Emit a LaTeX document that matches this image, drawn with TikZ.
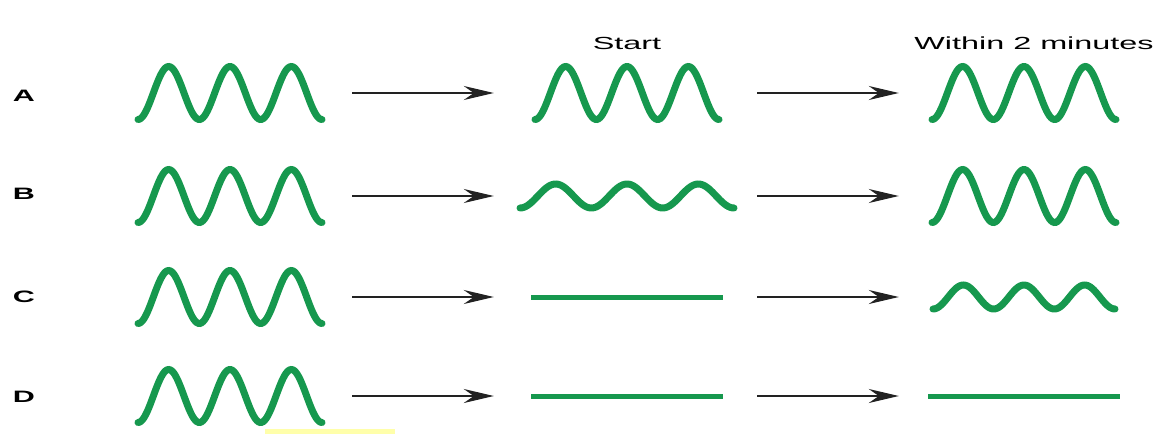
\documentclass[tikz,border=0pt]{standalone}
\usepackage{fontspec}
\setmainfont{Liberation Sans}
\usetikzlibrary{arrows.meta}

\definecolor{sgreen}{RGB}{22,152,78}
\definecolor{ink}{RGB}{34,34,34}
\definecolor{hilite}{RGB}{255,255,170}

\newcommand{\stretchx}[1]{\scalebox{1.85}[1]{#1}}
% a wave of three periods drawn in a slot node: node, amplitude, half width
\newcommand{\wavein}[3]{\draw[sig,shift={(#1.center)}] plot[domain=-#3:#3,samples=120,smooth] (\x,{#2*cos(540/#3*(\x+#3))});}
\newcommand{\flatin}[2]{\draw[flat] ([xshift=-#2pt]#1.center) -- ([xshift=#2pt]#1.center);}

\tikzset{
  slot/.style={inner sep=0pt,minimum height=60pt},
  sig/.style={draw=sgreen,line width=7pt,line cap=round},
  flat/.style={draw=sgreen,line width=5pt},
  link/.style={draw=ink,line width=2pt,-{Stealth[length=30pt,width=14pt,inset=10pt]},shorten <=27pt,shorten >=30pt},
  rowlabel/.style={anchor=base,font=\fontsize{16.5}{19}\selectfont\bfseries},
  head/.style={anchor=base,font=\fontsize{17.5}{21}\selectfont}
}

\begin{document}
\begin{tikzpicture}[x=1pt,y=-1pt]
\useasboundingbox (0,0) rectangle (1161,434);
\fill[hilite] (265,429) rectangle (395,434);

\node[head](start) at (627,49){\stretchx{Start}};
\node[head](within) at (1034,49){\stretchx{Within 2 minutes}};

\node[rowlabel](la) at (24,101){\stretchx{A}};
\node[rowlabel](lb) at (24,199){\stretchx{B}};
\node[rowlabel](lc) at (24,302){\stretchx{C}};
\node[rowlabel](ld) at (24,402){\stretchx{D}};

\node[slot,minimum width=190pt](a1) at (230,93){};
\node[slot,minimum width=206pt](a2) at (627,93){};
\node[slot,minimum width=190pt](a3) at (1024,93){};
\node[slot,minimum width=190pt](b1) at (230,196){};
\node[slot,minimum width=206pt](b2) at (627,196){};
\node[slot,minimum width=190pt](b3) at (1024,196){};
\node[slot,minimum width=190pt](c1) at (230,297){};
\node[slot,minimum width=206pt](c2) at (627,297){};
\node[slot,minimum width=190pt](c3) at (1024,297){};
\node[slot,minimum width=190pt](d1) at (230,396){};
\node[slot,minimum width=206pt](d2) at (627,396){};
\node[slot,minimum width=190pt](d3) at (1024,396){};

\wavein{a1}{26.5}{92}
\wavein{a2}{26.5}{92}
\wavein{a3}{26.5}{92}
\wavein{b1}{26.5}{92}
\wavein{b2}{12}{107}
\wavein{b3}{26.5}{92}
\wavein{c1}{26.5}{92}
\flatin{c2}{96}
\wavein{c3}{12}{91}
\wavein{d1}{26.5}{92}
\flatin{d2}{96}
\flatin{d3}{96}

\path
(a1) edge[link] (a2)
(a2) edge[link] (a3)
(b1) edge[link] (b2)
(b2) edge[link] (b3)
(c1) edge[link] (c2)
(c2) edge[link] (c3)
(d1) edge[link] (d2)
(d2) edge[link] (d3);
\end{tikzpicture}
\end{document}
